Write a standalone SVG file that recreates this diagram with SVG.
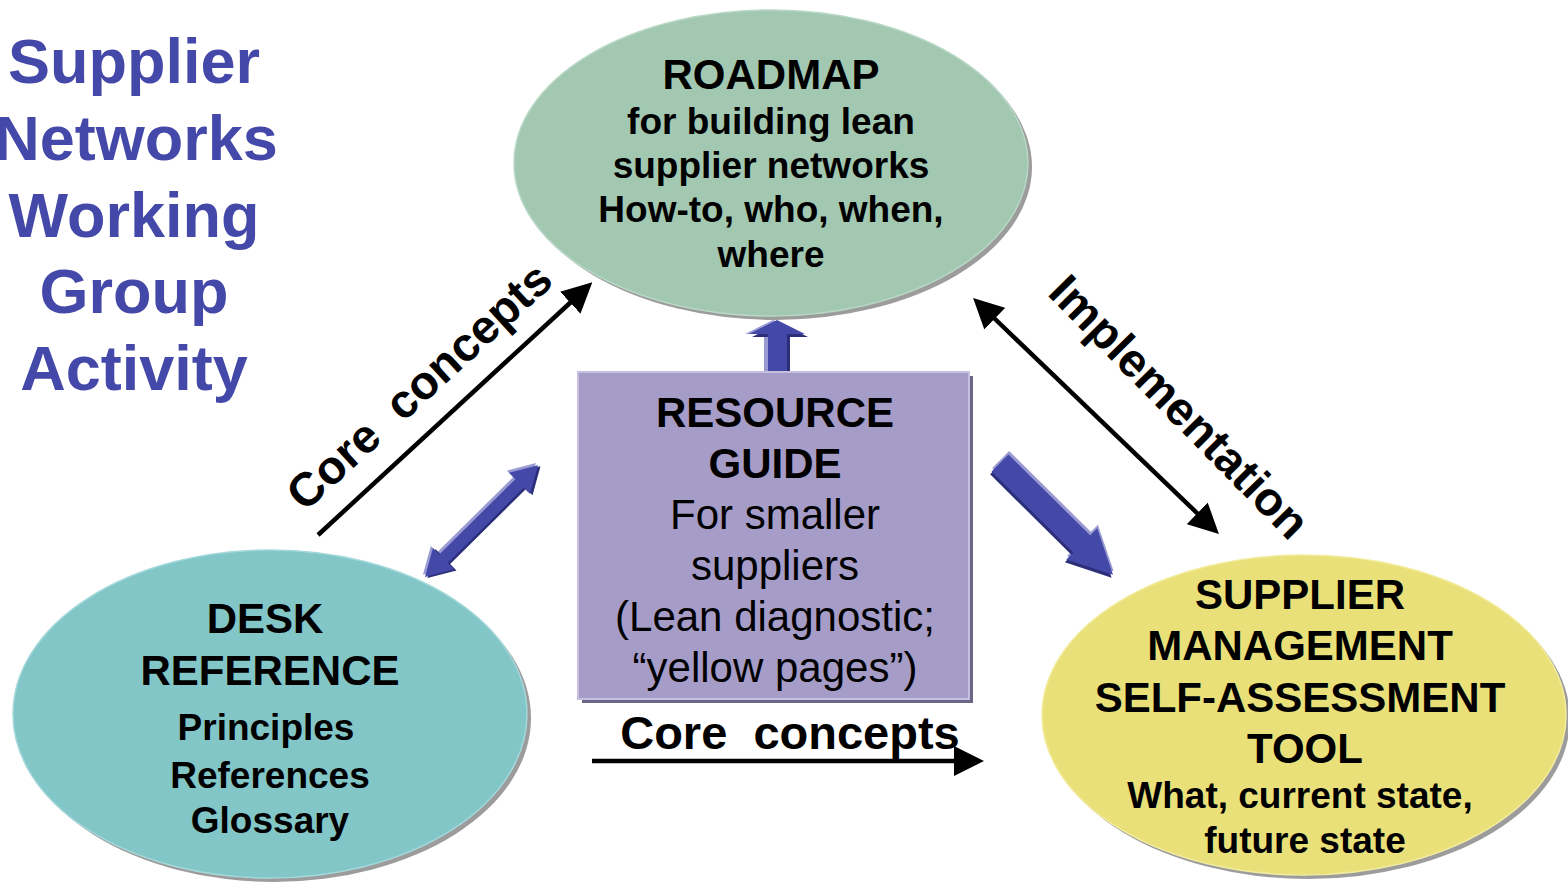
<svg xmlns="http://www.w3.org/2000/svg" width="1568" height="885" viewBox="0 0 1568 885">
<style>
text{font-family:"Liberation Sans",Arial,sans-serif;text-anchor:middle;fill:#000}
.title{font-weight:bold;font-size:63px;fill:#4448A8}
.h{font-weight:bold;font-size:42px}
.s{font-weight:bold;font-size:37px}
.r{font-size:42px}
.lbl{font-weight:bold;font-size:47px}
.shadow{fill:#9C9C9C}
.conn{stroke:#000;stroke-width:4.5;fill:none}
.blk{fill:#4449A8}
.blkL{fill:#9A9BD2}
.blkD{fill:#2C2E7A}
</style>
<defs>
<marker id="ah" viewBox="0 -15 30 30" markerWidth="30" markerHeight="30" refX="1" refY="0" orient="auto-start-reverse" markerUnits="userSpaceOnUse">
<path d="M0,-15 L30,0 L0,15 z" fill="#000"/>
</marker>
</defs>
<rect width="1568" height="885" fill="#fff"/>

<g id="title">
<text class="title" x="134" y="83">Supplier</text>
<text class="title" x="136" y="160">Networks</text>
<text class="title" x="134" y="237">Working</text>
<text class="title" x="134" y="313">Group</text>
<text class="title" x="134" y="390">Activity</text>
</g>

<g id="connectors">
<line class="conn" x1="318" y1="535" x2="571" y2="302" marker-end="url(#ah)"/>
<line class="conn" x1="994" y1="318" x2="1198" y2="514" marker-start="url(#ah)" marker-end="url(#ah)"/>
<line class="conn" x1="592" y1="761" x2="955" y2="761" stroke-width="5" marker-end="url(#ah)"/>
<text class="lbl" transform="translate(430,398) rotate(-42.5)">Core &#160;concepts</text>
<text class="lbl" transform="translate(1168,418) rotate(45.5)">Implementation</text>
<text class="lbl" x="790" y="749">Core &#160;concepts</text>
<g id="arrow-up">
<polygon class="blkL" transform="translate(-4,0)" points="768,372 768,334 749,334 777,320 805,334 787,334 787,372"/>
<polygon class="blkD" transform="translate(3,3)" points="768,372 768,334 749,334 777,320 805,334 787,334 787,372"/>
<polygon class="blk" points="768,372 768,334 749,334 777,320 805,334 787,334 787,372"/>
</g>
<g id="arrow-double" transform="translate(425,577) rotate(-44.7)">
<polygon class="blkL" transform="translate(0,-3)" points="0,0 26,-15 26,-6 133,-6 133,-15 159,0 133,15 133,6 26,6 26,15"/>
<polygon class="blkD" transform="translate(1,2.5)" points="0,0 26,-15 26,-6 133,-6 133,-15 159,0 133,15 133,6 26,6 26,15"/>
<polygon class="blk" points="0,0 26,-15 26,-6 133,-6 133,-15 159,0 133,15 133,6 26,6 26,15"/>
</g>
<g id="arrow-dr" transform="translate(1000,463) rotate(44.7)">
<polygon class="blkL" transform="translate(-2,-3)" points="0,-12 115,-12 115,-22 159,0 115,22 115,12 0,12"/>
<polygon class="blkD" transform="translate(1,3)" points="0,-12 115,-12 115,-22 159,0 115,22 115,12 0,12"/>
<polygon class="blk" points="0,-12 115,-12 115,-22 159,0 115,22 115,12 0,12"/>
</g>
</g>

<g id="roadmap">
<ellipse class="shadow" cx="775" cy="167" rx="257" ry="153"/>
<ellipse cx="771" cy="163" rx="257" ry="153" fill="#A3C8B2" stroke="#B8D8C6" stroke-width="1.5"/>
<text class="h" x="771" y="89">ROADMAP</text>
<text class="s" x="771" y="134">for building lean</text>
<text class="s" x="771" y="178">supplier networks</text>
<text class="s" x="771" y="222">How-to, who, when,</text>
<text class="s" x="771" y="267">where</text>
</g>

<g id="resource-guide">
<rect x="582" y="376" width="391" height="327" fill="#6C6686"/>
<rect x="578" y="372" width="391" height="327" fill="#A59CC8" stroke="#C6BFE0" stroke-width="2"/>
<text class="h" x="775" y="427">RESOURCE</text>
<text class="h" x="775" y="478">GUIDE</text>
<text class="r" x="775" y="529">For smaller</text>
<text class="r" x="775" y="580">suppliers</text>
<text class="r" x="775" y="631">(Lean diagnostic;</text>
<text class="r" x="775" y="682">“yellow pages”)</text>
</g>

<g id="desk-reference">
<ellipse class="shadow" cx="274" cy="718" rx="257" ry="164"/>
<ellipse cx="270" cy="714" rx="257" ry="164" fill="#82C6C8" stroke="#A4D8DA" stroke-width="1.5"/>
<text class="h" x="265" y="633">DESK</text>
<text class="h" x="270" y="685">REFERENCE</text>
<text class="s" x="266" y="740">Principles</text>
<text class="s" x="270" y="788">References</text>
<text class="s" x="270" y="833">Glossary</text>
</g>

<g id="self-assessment">
<ellipse class="shadow" cx="1308" cy="719" rx="262" ry="160"/>
<ellipse cx="1304" cy="715" rx="262" ry="160" fill="#EAE07A" stroke="#F2EC9E" stroke-width="1.5"/>
<text class="h" x="1300" y="609">SUPPLIER</text>
<text class="h" x="1300" y="660">MANAGEMENT</text>
<text class="h" x="1300" y="712">SELF-ASSESSMENT</text>
<text class="h" x="1305" y="763">TOOL</text>
<text class="s" x="1300" y="808">What, current state,</text>
<text class="s" x="1305" y="853">future state</text>
</g>
</svg>
